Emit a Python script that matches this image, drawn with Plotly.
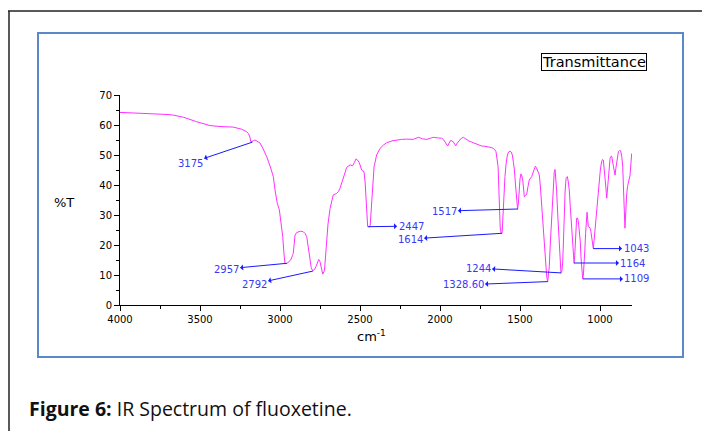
import plotly.graph_objects as go

# ---------------- data ----------------
wavenumber = [
    4000, 3900, 3812, 3700, 3667, 3604, 3521, 3437, 3375, 3292, 3240, 3210, 3198, 3188, 3183, 3175,
    3165, 3156, 3140, 3125, 3105, 3083, 3060, 3042, 3030, 3017, 3004, 2995, 2983, 2975, 2969, 2958,
    2948, 2933, 2922, 2917, 2912, 2906, 2895, 2885, 2870, 2854, 2843, 2833, 2825, 2817, 2805, 2796,
    2785, 2775, 2765, 2758, 2750, 2742, 2733, 2722, 2715, 2708, 2700, 2687, 2675, 2667, 2646, 2635,
    2625, 2604, 2583, 2562, 2546, 2535, 2525, 2515, 2504, 2490, 2475, 2468, 2465, 2458, 2452, 2437,
    2432, 2427, 2420, 2412, 2396, 2375, 2354, 2333, 2300, 2271, 2240, 2208, 2180, 2167, 2150, 2135,
    2110, 2083, 2060, 2042, 2015, 1990, 1979, 1969, 1960, 1952, 1943, 1933, 1917, 1910, 1902, 1892,
    1879, 1866, 1854, 1833, 1818, 1802, 1780, 1760, 1740, 1720, 1698, 1680, 1667, 1658, 1650, 1643,
    1637, 1633, 1629, 1624, 1618, 1612, 1608, 1604, 1599, 1594, 1587, 1579, 1571, 1562, 1555, 1548,
    1541, 1535, 1528, 1521, 1515, 1510, 1506, 1500, 1494, 1488, 1483, 1478, 1473, 1465, 1458, 1450,
    1442, 1427, 1417, 1410, 1404, 1398, 1392, 1385, 1379, 1372, 1365, 1357, 1348, 1340, 1333, 1327,
    1322, 1317, 1310, 1302, 1297, 1292, 1286, 1281, 1276, 1271, 1265, 1260, 1255, 1250, 1244, 1238,
    1233, 1228, 1223, 1218, 1212, 1204, 1198, 1192, 1186, 1181, 1176, 1171, 1166, 1162, 1158, 1154,
    1150, 1146, 1141, 1137, 1133, 1129, 1126, 1123, 1119, 1115, 1111, 1108, 1104, 1100, 1095, 1090,
    1085, 1081, 1077, 1073, 1068, 1062, 1057, 1052, 1047, 1042, 1037, 1031, 1026, 1021, 1014, 1006,
    998, 990, 984, 979, 974, 969, 963, 958, 953, 948, 943, 937, 932, 927, 922, 917,
    911, 906, 901, 896, 890, 885, 878, 871, 864, 858, 854, 850, 847, 844, 840, 837,
    833, 828, 823, 818, 812, 807, 802,
]
transmittance = [
    64.2, 64.0, 63.9, 63.5, 63.3, 62.6, 61.1, 59.8, 59.5, 59.3, 58.6, 57.8, 57.2, 56.0, 54.4, 54.5,
    54.8, 55.0, 54.6, 54.0, 52.0, 49.4, 46.0, 42.8, 38.0, 33.9, 31.7, 28.0, 22.8, 17.0, 13.9, 13.8,
    14.4, 15.0, 16.5, 17.2, 20.0, 23.3, 24.2, 24.4, 24.6, 24.4, 23.8, 22.8, 19.5, 16.1, 12.5, 11.4,
    11.8, 12.8, 14.6, 15.2, 14.4, 12.5, 10.3, 11.5, 16.0, 22.8, 27.0, 32.2, 35.5, 36.7, 37.2, 37.8,
    38.9, 42.2, 45.9, 46.7, 46.4, 47.5, 48.7, 48.3, 47.4, 45.0, 44.4, 41.0, 38.3, 31.0, 26.1, 26.1,
    30.0, 36.1, 41.0, 46.1, 50.0, 52.2, 53.3, 54.1, 54.7, 55.0, 55.2, 55.3, 55.1, 55.2, 55.6, 55.9,
    55.4, 55.2, 55.6, 55.9, 55.7, 55.6, 55.2, 54.4, 53.5, 53.0, 54.0, 54.9, 54.4, 53.8, 53.1, 54.0,
    55.0, 55.6, 55.9, 55.0, 54.6, 54.3, 53.8, 53.3, 53.0, 52.9, 52.8, 52.5, 52.2, 51.8, 51.1, 49.0,
    46.1, 40.0, 32.8, 26.0, 23.9, 23.9, 28.0, 32.8, 38.0, 42.8, 47.0, 50.0, 51.0, 51.3, 51.0, 50.0,
    47.5, 45.0, 40.0, 35.0, 31.9, 34.0, 38.3, 42.0, 43.7, 43.0, 41.7, 39.0, 36.1, 36.5, 37.0, 39.5,
    41.7, 42.8, 44.4, 45.5, 46.3, 45.8, 45.0, 44.3, 43.3, 39.0, 33.9, 27.0, 19.4, 14.0, 9.4, 7.8,
    9.5, 12.8, 21.0, 30.6, 36.0, 41.7, 44.3, 45.2, 42.5, 38.3, 31.0, 25.0, 18.5, 12.8, 10.6, 11.5,
    14.4, 22.0, 32.8, 38.0, 42.2, 42.8, 41.0, 38.3, 33.0, 28.3, 23.0, 18.3, 15.0, 13.9, 16.5, 21.7,
    25.5, 28.9, 29.0, 28.3, 26.6, 25.0, 23.0, 21.0, 16.0, 12.2, 9.5, 8.7, 10.0, 12.8, 18.0, 23.9,
    28.0, 30.9, 28.5, 26.1, 26.0, 25.6, 24.5, 22.8, 20.5, 18.9, 21.5, 25.0, 29.0, 32.8, 37.0, 41.7,
    45.0, 47.8, 48.5, 48.3, 46.0, 43.3, 39.0, 35.6, 39.5, 42.8, 46.0, 48.9, 49.5, 49.6, 48.0, 46.1,
    44.5, 43.3, 45.5, 47.8, 49.8, 51.1, 51.5, 51.4, 49.5, 46.1, 40.0, 32.8, 28.0, 25.6, 30.0, 35.0,
    37.0, 39.5, 41.1, 42.5, 43.3, 47.0, 50.5,
]

# peak labels: text, band position (wavenumber, %T) and label position (wavenumber, %T)
peak_labels = ["3175", "2957", "2792", "2447", "1614", "1517", "1244", "1328.60", "1043", "1164", "1109"]
peak_x = [3172, 2957, 2795, 2449, 1613, 1514, 1244, 1326, 1043, 1162, 1107]
peak_y = [54.3, 13.9, 11.3, 26.1, 23.9, 32.0, 10.7, 7.8, 18.8, 14.0, 8.7]
label_x = [3562, 3337, 3162, 2181, 2187, 1975, 1762, 1856, 775, 794, 769]
label_y = [47.3, 12.0, 7.0, 26.3, 22.0, 31.3, 12.3, 6.7, 18.8, 14.0, 8.7]

x_ticks = [4000, 3500, 3000, 2500, 2000, 1500, 1000]
y_ticks = [0, 10, 20, 30, 40, 50, 60, 70]

# ---------------- layout geometry ----------------
W, H = 702, 431
L, R, T, B = 120, 70, 95, 126
PW, PH = W - L - R, H - T - B


def px(x):
    return (x - L) / PW


def py(y):
    return (H - B - y) / PH


fig = go.Figure()
fig.add_trace(go.Scatter(
    x=wavenumber, y=transmittance, mode="lines",
    line=dict(color="#ff30ff", width=1), showlegend=False, hoverinfo="x+y",
))

tick_font = dict(family="DejaVu Sans", size=10, color="#000")
fig.update_xaxes(
    range=[4000, 800], tickvals=x_ticks, ticks="outside", ticklen=5, tickwidth=1, tickcolor="#000",
    showline=True, linecolor="#000", linewidth=1, showgrid=False, zeroline=False,
    tickfont=tick_font, minor=dict(dtick=250, ticks="outside", ticklen=3, tickcolor="#000"),
)
fig.update_yaxes(
    range=[0, 70], tickvals=y_ticks, ticks="outside", ticklen=5, tickwidth=1, tickcolor="#000",
    showline=True, linecolor="#000", linewidth=1, showgrid=False, zeroline=False,
    tickfont=tick_font, minor=dict(dtick=5, ticks="outside", ticklen=3, tickcolor="#000"),
)

annotations = []
for txt, xp, yp, xl, yl in zip(peak_labels, peak_x, peak_y, label_x, label_y):
    annotations.append(dict(
        x=xp, y=yp, xref="x", yref="y", ax=xl, ay=yl, axref="x", ayref="y",
        text=txt, showarrow=True, arrowside="start", arrowhead=2, arrowsize=1.7,
        arrowwidth=1, arrowcolor="#1a1aff", startstandoff=0,
        font=dict(family="DejaVu Sans", size=10, color="#3838f5"),
    ))

annotations += [
    dict(x=px(594), y=py(62), xref="paper", yref="paper", xanchor="center", yanchor="middle",
         text="Transmittance", showarrow=False,
         font=dict(family="DejaVu Sans", size=14.5, color="#000"), bordercolor="#000", borderwidth=1,
         borderpad=0, bgcolor="#fff"),
    dict(x=px(64), y=py(202), xref="paper", yref="paper", xanchor="center", yanchor="middle",
         text="%T", showarrow=False,
         font=dict(family="DejaVu Sans", size=13, color="#000")),
    dict(x=px(371), y=py(336), xref="paper", yref="paper", xanchor="center", yanchor="middle",
         text="cm<sup>-1</sup>", showarrow=False,
         font=dict(family="DejaVu Sans", size=13, color="#000")),
    dict(x=px(27), y=py(408), xref="paper", yref="paper", xanchor="left", yanchor="middle",
         text="<b>Figure 6:</b> IR Spectrum of fluoxetine.", showarrow=False,
         font=dict(family="Open Sans", size=19.5, color="#111")),
]

shapes = [
    dict(type="line", xref="paper", yref="paper", x0=px(8), x1=px(710), y0=py(11), y1=py(11),
         line=dict(color="#222", width=1.5)),
    dict(type="line", xref="paper", yref="paper", x0=px(9), x1=px(9), y0=py(11), y1=py(440),
         line=dict(color="#222", width=1.5)),
    dict(type="rect", xref="paper", yref="paper", x0=px(38), x1=px(683), y0=py(33), y1=py(357),
         line=dict(color="#5b89c8", width=2)),
]

fig.update_layout(
    width=W, height=H, margin=dict(l=L, r=R, t=T, b=B, autoexpand=False),
    paper_bgcolor="#fff", plot_bgcolor="#fff", showlegend=False,
    annotations=annotations, shapes=shapes,
)

fig.write_html("out.html")
